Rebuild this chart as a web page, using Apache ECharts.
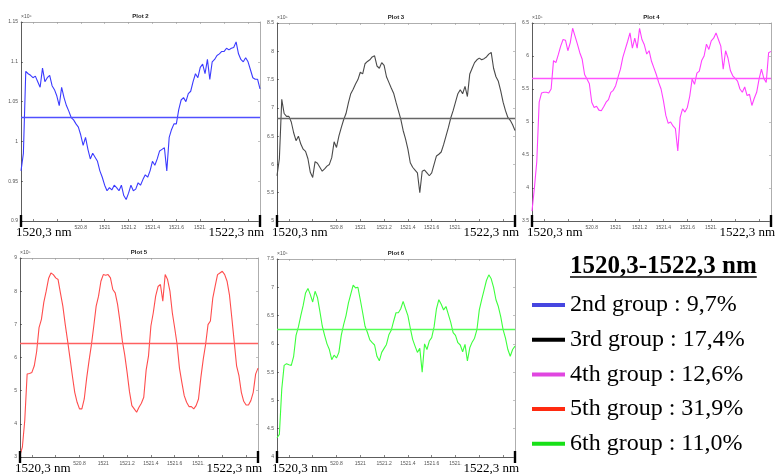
<!DOCTYPE html>
<html><head><meta charset="utf-8">
<script src="https://cdn.jsdelivr.net/npm/echarts@6/dist/echarts.min.js"></script>
<style>html,body{margin:0;padding:0;background:#fff}#c{width:776px;height:474px}</style>
</head><body><div id="c"></div>
<script>
// ---------------- DATA ----------------
const wavelengthStart = 1520.3;
const wavelengthStep = 0.02;
const xMin = 1520.3, xMax = 1522.3;

const plot2Values = [0.963,0.985,1.088,1.085,1.083,1.08,1.082,1.075,1.068,1.092,
1.075,1.08,1.083,1.07,1.065,1.057,1.045,1.068,1.055,1.045,
1.038,1.03,1.027,1.022,1.018,1.008,0.995,1.005,0.99,0.978,
0.985,0.98,0.975,0.963,0.955,0.945,0.938,0.942,0.939,0.945,
0.942,0.938,0.945,0.932,0.927,0.935,0.945,0.938,0.94,0.948,
0.945,0.952,0.958,0.955,0.963,0.975,0.97,0.978,0.988,0.99,
0.992,0.963,1.005,1.015,1.022,1.022,1.04,1.052,1.055,1.05,
1.06,1.063,1.075,1.085,1.08,1.093,1.097,1.085,1.103,1.078,
1.1,1.103,1.108,1.11,1.113,1.113,1.117,1.115,1.117,1.118,
1.125,1.11,1.103,1.1,1.105,1.1,1.09,1.08,1.078,1.078,
1.066];

const plot3Values = [5.8,6.1,7.15,6.9,6.85,6.85,6.75,6.56,6.42,6.5,
6.36,6.27,6.23,6.1,5.86,5.77,6.05,6.02,5.95,5.88,
5.92,5.97,6.0,6.12,6.4,6.3,6.5,6.65,6.79,6.9,
7.09,7.25,7.33,7.42,7.5,7.63,7.6,7.78,7.82,7.85,
7.9,7.92,7.74,7.7,7.8,7.75,7.55,7.45,7.35,7.26,
7.1,6.95,6.8,6.6,6.45,6.27,6.03,5.95,5.9,5.85,
5.5,5.88,5.9,5.85,5.8,5.85,6.0,6.15,6.18,6.22,
6.35,6.5,6.65,6.82,6.95,7.1,7.25,7.32,7.25,7.38,
7.2,7.6,7.7,7.8,7.85,7.88,7.85,7.87,7.9,7.95,
7.98,7.7,7.55,7.47,7.3,7.1,6.95,6.83,6.78,6.7,
6.6];

const plot4Values = [3.65,4.0,4.4,5.3,5.44,5.45,5.45,5.44,5.5,5.93,
5.9,6.02,6.15,6.25,6.24,6.08,6.2,6.42,6.3,6.18,
6.05,5.95,5.72,5.65,5.58,5.3,5.22,5.24,5.18,5.17,
5.23,5.3,5.34,5.45,5.48,5.55,5.68,5.8,5.98,6.1,
6.22,6.35,6.12,6.27,6.12,6.42,6.25,6.17,6.03,6.08,
5.92,5.82,5.72,5.6,5.5,5.32,5.1,4.98,5.0,4.94,
4.9,4.56,5.07,5.2,5.15,5.22,5.39,5.65,5.57,5.74,
5.77,5.93,6.0,6.18,6.1,6.23,6.27,6.35,6.25,6.15,
5.8,6.08,5.97,5.78,5.7,5.66,5.62,5.5,5.45,5.53,
5.4,5.42,5.25,5.36,5.45,5.65,5.8,5.66,5.6,6.05,
6.07];

const plot5Values = [3.06,3.3,4.1,5.5,5.52,5.55,5.75,6.18,6.9,7.15,
7.66,8.0,8.38,8.55,8.5,8.4,8.35,7.94,7.55,7.0,
6.5,5.98,5.45,4.95,4.65,4.45,4.45,4.75,5.37,5.9,
6.38,6.95,7.55,7.85,8.3,8.5,8.48,8.5,8.4,8.05,
7.95,7.6,7.09,6.5,6.08,5.55,4.97,4.55,4.45,4.35,
4.5,4.62,4.8,5.62,6.05,6.95,7.35,7.85,8.14,8.2,
7.7,8.5,8.35,8.0,7.35,6.89,6.4,5.68,5.25,4.85,
4.65,4.52,4.52,4.45,4.55,4.75,5.4,5.95,6.4,6.99,
7.1,7.79,8.15,8.5,8.55,8.6,8.5,8.3,7.89,7.2,
6.48,5.75,5.45,4.95,4.68,4.57,4.57,4.7,4.95,5.5,
5.68];

const plot6Values = [4.34,4.4,5.2,5.62,5.65,5.63,5.62,5.78,6.15,6.3,
6.5,6.68,6.9,6.98,6.87,6.74,6.93,6.82,6.58,6.32,
6.15,6.0,5.9,5.72,5.8,5.75,5.85,6.15,6.34,6.5,
6.72,6.88,7.04,6.99,7.0,6.78,6.55,6.31,6.2,6.07,
6.02,5.98,5.78,5.7,5.85,5.92,5.99,6.16,6.24,6.4,
6.55,6.55,6.62,6.75,6.62,6.5,6.28,6.08,5.96,5.85,
5.92,5.5,6.0,5.9,6.05,6.11,6.3,6.62,6.78,6.7,
6.6,6.66,6.52,6.38,6.2,6.15,6.02,5.98,5.86,5.99,
5.7,5.93,6.03,6.1,6.25,6.6,6.78,6.95,7.12,7.22,
7.15,7.0,6.78,6.66,6.48,6.25,6.1,5.9,5.78,5.9,
5.96];

const meanValues = [1.03, 6.82, 5.67, 6.43, 6.25];
const plotTitles = ['Plot 2','Plot 3','Plot 4','Plot 5','Plot 6'];
const groupNames = ['2nd group : 9,7%','3rd group : 17,4%','4th group : 12,6%','5th group : 31,9%','6th group : 11,0%'];
const yMins = [0.9, 5, 3.5, 3, 4];
const yMaxs = [1.15, 8.5, 6.5, 9, 7.5];
const ySteps = [0.05, 0.5, 0.5, 1, 0.5];
const multipliers = ['×10⁶','×10⁵','×10⁵','×10⁵','×10⁵'];
const xTickValues = [1520.4,1520.6,1520.8,1521,1521.2,1521.4,1521.6,1521.8,1522,1522.2];
const xLabelValues = [1520.8,1521,1521.2,1521.4,1521.6,1521.8];
const xLabelTexts = ['520.8','1521','1521.2','1521.4','1521.6','1521.'];
const rangeLabels = ['1520,3 nm','1522,3 nm'];
const legendTitle = '1520,3-1522,3 nm';

// ---------------- STYLE / LAYOUT ----------------
const lineColors = ['#3b3bff','#4a4a4a','#ff40ff','#ff4d4d','#3cff3c'];
const meanColors = ['#5050ff','#666666','#ff55ff','#ff6060','#55ff55'];
const legendColors = ['#4646e0','#000000','#e046e0','#ff2a10','#18e018'];
const grids = [
  {left:21, top:22, width:239, height:199},
  {left:277, top:23, width:238, height:198},
  {left:532, top:23, width:239, height:198},
  {left:20, top:258, width:238, height:199},
  {left:277, top:259, width:238, height:198}
];
const allValues = [plot2Values, plot3Values, plot4Values, plot5Values, plot6Values];
const wavelengths = plot2Values.map((_, j) => +(wavelengthStart + wavelengthStep * j).toFixed(2));

const chart = echarts.init(document.getElementById('c'));
const tickFont = {fontSize:5, color:'#555', fontFamily:'Liberation Sans'};
const option = {
  backgroundColor:'#fff', animation:false,
  grid:[], xAxis:[], yAxis:[], series:[],
  legend:{
    orient:'vertical', left:527, top:287, itemWidth:33, itemHeight:4, itemGap:8.7,
    icon:'rect', selectedMode:false,
    textStyle:{fontFamily:'Liberation Serif', fontSize:24, color:'#000', lineHeight:26},
    data: groupNames.map((n,i)=>({name:n, itemStyle:{color:legendColors[i]}}))
  }
};
grids.forEach((g,i)=>{
  option.grid.push({left:g.left, top:g.top, width:g.width, height:g.height});
  option.xAxis.push({type:'value', gridIndex:i, position:'bottom', min:xMin, max:xMax,
    splitLine:{show:false},
    axisLine:{lineStyle:{color:'#333', width:0.8}},
    axisTick:{inside:true, length:2, customValues:xTickValues, lineStyle:{color:'#333', width:0.6}},
    axisLabel:Object.assign({customValues:xLabelValues, margin:4,
      formatter:v=>{const k = xLabelValues.findIndex(t=>Math.abs(t-v)<1e-6); return k>=0 ? xLabelTexts[k] : '';}}, tickFont)
  });
  option.xAxis.push({type:'value', gridIndex:i, position:'top', min:xMin, max:xMax,
    splitLine:{show:false},
    axisLine:{lineStyle:{color:'#999', width:0.8}},
    axisTick:{inside:true, length:2, customValues:xTickValues, lineStyle:{color:'#999', width:0.6}},
    axisLabel:{show:false}
  });
  option.yAxis.push({type:'value', gridIndex:i, position:'left', min:yMins[i], max:yMaxs[i], interval:ySteps[i],
    splitLine:{show:false},
    axisLine:{show:true, lineStyle:{color:'#333', width:0.8}},
    axisTick:{show:true, inside:true, length:2, lineStyle:{color:'#333', width:0.6}},
    axisLabel:Object.assign({margin:3, showMinLabel:true, showMaxLabel:true}, tickFont),
    name:multipliers[i], nameLocation:'end', nameGap:1,
    nameTextStyle:{fontSize:5, color:'#555', fontFamily:'Liberation Sans', align:'left', verticalAlign:'bottom'}
  });
  option.yAxis.push({type:'value', gridIndex:i, position:'right', min:yMins[i], max:yMaxs[i], interval:ySteps[i],
    splitLine:{show:false},
    axisLine:{show:true, lineStyle:{color:'#999', width:0.8}},
    axisTick:{show:true, inside:true, length:2, lineStyle:{color:'#999', width:0.6}},
    axisLabel:{show:false}
  });
  option.series.push({type:'line', name:groupNames[i], xAxisIndex:2*i, yAxisIndex:2*i,
    color:lineColors[i],
    data: allValues[i].map((v,j)=>[wavelengths[j], v]),
    showSymbol:false, symbol:'none',
    lineStyle:{color:lineColors[i], width:1.1}, itemStyle:{color:lineColors[i]},
    markLine:{silent:true, animation:false, symbol:['none','none'], label:{show:false},
      itemStyle:{color:meanColors[i]},
      lineStyle:{color:meanColors[i], width:1.3, type:'solid'},
      emphasis:{disabled:true},
      data:[{yAxis:meanValues[i], lineStyle:{color:meanColors[i], width:1.3, type:'solid'}}]}
  });
});
chart.setOption(option);

// annotations placed from the axes' own scales
const gfx = [];
grids.forEach((g,i)=>{
  const p0 = chart.convertToPixel({xAxisIndex:2*i, yAxisIndex:2*i}, [xMin, yMins[i]]);
  const p1 = chart.convertToPixel({xAxisIndex:2*i, yAxisIndex:2*i}, [xMax, yMins[i]]);
  [p0,p1].forEach(p=>gfx.push({type:'rect', z:100, shape:{x:p[0]-1.2, y:p[1]-6, width:2.4, height:12}, style:{fill:'#000'}}));
  gfx.push({type:'text', z:100, x:p0[0]-5, y:p0[1]+12, style:{text:rangeLabels[0], font:'13px "Liberation Serif"', fill:'#000', align:'left', verticalAlign:'middle'}});
  gfx.push({type:'text', z:100, x:p1[0]+4, y:p1[1]+12, style:{text:rangeLabels[1], font:'13px "Liberation Serif"', fill:'#000', align:'right', verticalAlign:'middle'}});
  gfx.push({type:'text', z:100, x:g.left+g.width/2, y:g.top-6, style:{text:plotTitles[i], font:'bold 6px "Liberation Sans"', fill:'#222', align:'center', verticalAlign:'middle'}});
});
const titleFont = 'bold 25px "Liberation Serif"';
const mctx = document.createElement('canvas').getContext('2d');
mctx.font = titleFont;
const tw = mctx.measureText(legendTitle).width;
gfx.push({type:'text', z:100, x:570, y:266.5, style:{text:legendTitle, font:titleFont, fill:'#000', align:'left', verticalAlign:'middle'}});
gfx.push({type:'line', z:100, shape:{x1:570, y1:277, x2:570+tw, y2:277}, style:{stroke:'#000', lineWidth:1.5}});
chart.setOption({graphic:gfx});
</script></body></html>
